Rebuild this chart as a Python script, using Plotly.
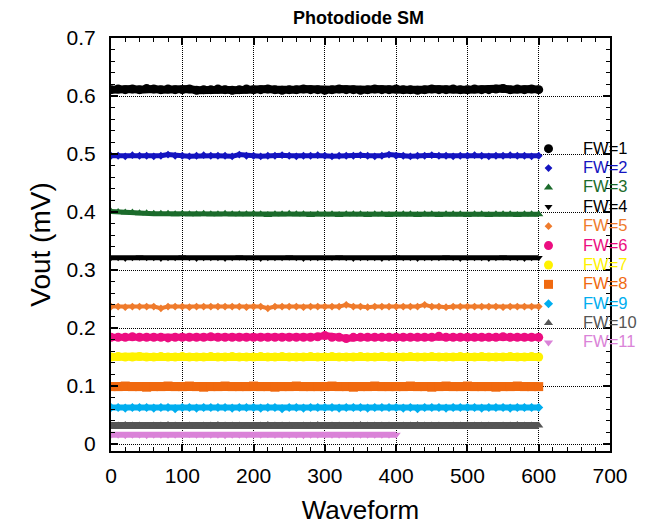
import plotly.graph_objects as go

# Waveform index for each recorded sample (every 10th waveform)
waveform = list(range(0, 601, 10))
waveform_fw11 = list(range(0, 401, 10))

fw1 = [0.611, 0.612, 0.611, 0.612, 0.611, 0.613, 0.612, 0.611, 0.612, 0.611,
       0.611, 0.612, 0.610, 0.611, 0.611, 0.612, 0.611, 0.610, 0.611, 0.612,
       0.611, 0.611, 0.612, 0.611, 0.610, 0.611, 0.611, 0.612, 0.611, 0.611,
       0.610, 0.611, 0.612, 0.611, 0.611, 0.610, 0.611, 0.612, 0.611, 0.611,
       0.612, 0.611, 0.611, 0.610, 0.611, 0.612, 0.611, 0.611, 0.612, 0.611,
       0.611, 0.612, 0.611, 0.611, 0.612, 0.613, 0.611, 0.612, 0.611, 0.612, 0.611]
fw2 = [0.497, 0.497, 0.496, 0.498, 0.497, 0.497, 0.496, 0.497, 0.499, 0.497,
       0.497, 0.496, 0.497, 0.498, 0.497, 0.497, 0.497, 0.496, 0.499, 0.497,
       0.497, 0.496, 0.497, 0.497, 0.498, 0.497, 0.496, 0.497, 0.497, 0.498,
       0.497, 0.496, 0.497, 0.497, 0.497, 0.498, 0.497, 0.496, 0.497, 0.499,
       0.497, 0.497, 0.496, 0.497, 0.497, 0.498, 0.497, 0.497, 0.496, 0.497,
       0.497, 0.498, 0.497, 0.496, 0.497, 0.497, 0.498, 0.497, 0.497, 0.496, 0.497]
fw3 = [0.401, 0.400, 0.399, 0.399, 0.398, 0.398, 0.397, 0.397, 0.397, 0.396,
       0.397, 0.396, 0.396, 0.397, 0.396, 0.396, 0.397, 0.396, 0.396, 0.396,
       0.397, 0.396, 0.395, 0.396, 0.396, 0.397, 0.396, 0.396, 0.395, 0.396,
       0.396, 0.396, 0.395, 0.396, 0.396, 0.396, 0.395, 0.396, 0.396, 0.395,
       0.396, 0.396, 0.396, 0.395, 0.396, 0.396, 0.395, 0.396, 0.396, 0.396,
       0.395, 0.396, 0.396, 0.395, 0.396, 0.396, 0.396, 0.395, 0.396, 0.396, 0.396]
fw4 = [0.321, 0.321, 0.320, 0.321, 0.322, 0.321, 0.321, 0.320, 0.321, 0.321,
       0.322, 0.321, 0.320, 0.321, 0.321, 0.321, 0.320, 0.321, 0.322, 0.321,
       0.321, 0.320, 0.321, 0.321, 0.321, 0.322, 0.321, 0.320, 0.321, 0.321,
       0.321, 0.321, 0.322, 0.321, 0.320, 0.321, 0.321, 0.321, 0.320, 0.321,
       0.322, 0.321, 0.321, 0.320, 0.321, 0.321, 0.321, 0.322, 0.321, 0.320,
       0.321, 0.321, 0.321, 0.320, 0.321, 0.322, 0.321, 0.321, 0.320, 0.321, 0.321]
fw5 = [0.237, 0.237, 0.236, 0.237, 0.237, 0.237, 0.237, 0.234, 0.237, 0.237,
       0.237, 0.236, 0.237, 0.237, 0.237, 0.237, 0.237, 0.237, 0.237, 0.236,
       0.237, 0.237, 0.234, 0.237, 0.237, 0.237, 0.237, 0.236, 0.237, 0.237,
       0.237, 0.237, 0.237, 0.240, 0.237, 0.237, 0.236, 0.237, 0.237, 0.237,
       0.237, 0.237, 0.237, 0.237, 0.240, 0.237, 0.237, 0.236, 0.237, 0.237,
       0.237, 0.237, 0.237, 0.237, 0.237, 0.236, 0.237, 0.237, 0.237, 0.237, 0.237]
fw6 = [0.184, 0.184, 0.184, 0.185, 0.184, 0.184, 0.184, 0.184, 0.183, 0.184,
       0.184, 0.184, 0.184, 0.184, 0.185, 0.184, 0.184, 0.184, 0.184, 0.184,
       0.184, 0.184, 0.184, 0.184, 0.184, 0.184, 0.184, 0.184, 0.184, 0.185,
       0.187, 0.184, 0.184, 0.182, 0.184, 0.184, 0.184, 0.184, 0.184, 0.184,
       0.184, 0.184, 0.184, 0.184, 0.184, 0.184, 0.186, 0.184, 0.184, 0.184,
       0.184, 0.184, 0.184, 0.184, 0.184, 0.185, 0.184, 0.184, 0.184, 0.184, 0.184]
fw7 = [0.150, 0.151, 0.150, 0.150, 0.151, 0.150, 0.150, 0.151, 0.150, 0.150,
       0.151, 0.150, 0.150, 0.150, 0.151, 0.150, 0.150, 0.151, 0.150, 0.150,
       0.150, 0.151, 0.150, 0.150, 0.151, 0.150, 0.150, 0.150, 0.151, 0.150,
       0.150, 0.151, 0.150, 0.150, 0.150, 0.151, 0.150, 0.150, 0.151, 0.150,
       0.150, 0.150, 0.151, 0.150, 0.150, 0.151, 0.150, 0.150, 0.150, 0.151,
       0.150, 0.150, 0.151, 0.150, 0.150, 0.150, 0.151, 0.150, 0.150, 0.151, 0.150]
fw8 = [0.099, 0.099, 0.100, 0.099, 0.099, 0.098, 0.099, 0.099, 0.100, 0.099,
       0.099, 0.100, 0.099, 0.098, 0.099, 0.099, 0.100, 0.099, 0.099, 0.099,
       0.100, 0.099, 0.099, 0.098, 0.099, 0.099, 0.100, 0.099, 0.099, 0.099,
       0.099, 0.100, 0.099, 0.099, 0.098, 0.099, 0.099, 0.100, 0.099, 0.099,
       0.099, 0.099, 0.100, 0.099, 0.099, 0.098, 0.099, 0.100, 0.099, 0.099,
       0.100, 0.099, 0.099, 0.099, 0.098, 0.099, 0.099, 0.100, 0.099, 0.099, 0.099]
fw9 = [0.063, 0.063, 0.062, 0.063, 0.063, 0.063, 0.062, 0.063, 0.063, 0.061,
       0.063, 0.063, 0.062, 0.063, 0.063, 0.063, 0.063, 0.062, 0.063, 0.063,
       0.063, 0.062, 0.063, 0.063, 0.061, 0.063, 0.063, 0.062, 0.063, 0.063,
       0.063, 0.063, 0.062, 0.063, 0.063, 0.063, 0.062, 0.063, 0.063, 0.063,
       0.063, 0.062, 0.063, 0.061, 0.063, 0.063, 0.063, 0.062, 0.063, 0.063,
       0.063, 0.063, 0.062, 0.063, 0.063, 0.063, 0.062, 0.063, 0.063, 0.063, 0.063]
fw10 = [0.032, 0.032, 0.033, 0.032, 0.032, 0.031, 0.032, 0.032, 0.033, 0.032,
        0.032, 0.032, 0.031, 0.032, 0.032, 0.033, 0.032, 0.032, 0.032, 0.031,
        0.032, 0.032, 0.033, 0.032, 0.032, 0.032, 0.031, 0.032, 0.032, 0.033,
        0.032, 0.032, 0.032, 0.031, 0.032, 0.033, 0.032, 0.032, 0.032, 0.032,
        0.031, 0.032, 0.032, 0.033, 0.032, 0.032, 0.032, 0.031, 0.032, 0.032,
        0.033, 0.032, 0.032, 0.032, 0.031, 0.032, 0.032, 0.033, 0.032, 0.032, 0.032]
fw11 = [0.016, 0.016, 0.015, 0.016, 0.016, 0.015, 0.016, 0.016, 0.016, 0.016,
        0.016, 0.017, 0.016, 0.016, 0.016, 0.016, 0.015, 0.016, 0.016, 0.016,
        0.016, 0.016, 0.017, 0.016, 0.016, 0.016, 0.016, 0.015, 0.016, 0.016,
        0.016, 0.016, 0.016, 0.016, 0.017, 0.016, 0.016, 0.016, 0.016, 0.016, 0.016]

names = ["FW=1", "FW=2", "FW=3", "FW=4", "FW=5", "FW=6",
         "FW=7", "FW=8", "FW=9", "FW=10", "FW=11"]
series = [fw1, fw2, fw3, fw4, fw5, fw6, fw7, fw8, fw9, fw10, fw11]
xvals = [waveform] * 10 + [waveform_fw11]
colors = ["#000000", "#1414c0", "#1b6b2b", "#000000", "#ef7b2c", "#ec0d80",
          "#fff200", "#f0690f", "#00aeef", "#555555", "#da83d8"]
symbols = ["circle", "diamond", "triangle-up", "triangle-down", "diamond", "circle",
           "circle", "square", "diamond", "triangle-up", "triangle-down"]
sizes = [9, 6, 8, 7, 6, 9, 9, 9, 7, 8, 8]
band_widths = [8, 5, 5, 5, 4, 7, 8, 9, 6, 7, 6]

FONT = "Liberation Sans, Arial, sans-serif"

fig = go.Figure()
for name, xs, ys, c, s, sz, bw in zip(names, xvals, series, colors, symbols, sizes, band_widths):
    # dense run of samples: markers joined by a band of the same colour
    fig.add_trace(go.Scatter(
        x=xs, y=ys, mode="lines+markers", legendgroup=name, showlegend=False,
        line=dict(color=c, width=bw),
        marker=dict(color=c, symbol=s, size=sz, line=dict(width=0)),
    ))
    # legend entry: symbol only
    fig.add_trace(go.Scatter(
        x=[None], y=[None], mode="markers", legendgroup=name,
        name=f'<span style="color:{c};font-size:16.5px">{name}</span>',
        marker=dict(color=c, symbol=s, size=sz, line=dict(width=0)),
    ))

DOT = "1px,1px"
axis_common = dict(
    showline=True, linecolor="black", linewidth=2, mirror="ticks",
    ticks="inside", ticklen=7, tickwidth=1.5, tickcolor="black",
    showgrid=True, gridcolor="black", gridwidth=1, griddash=DOT,
    zeroline=False,
    tickfont=dict(family=FONT, size=21, color="black"),
)

fig.update_layout(
    width=655, height=525,
    margin=dict(l=111, r=45, t=38, b=74, autoexpand=False),
    paper_bgcolor="white", plot_bgcolor="white",
    font=dict(family=FONT, color="black"),
    title=dict(text="<b>Photodiode SM</b>", x=0.5475, xanchor="center",
               y=1 - 18 / 525, yref="container", yanchor="middle",
               font=dict(family=FONT, size=18, color="black")),
    showlegend=True,
    legend=dict(x=(514 - 111) / 499, xanchor="left",
                y=(451 - 134) / 413, yanchor="top",
                bgcolor="rgba(0,0,0,0)", borderwidth=0,
                itemwidth=59, tracegroupgap=0,
                font=dict(family=FONT, size=12.6, color="black")),
)

fig.update_xaxes(
    range=[0, 700], tick0=0, dtick=100,
    minor=dict(dtick=20, ticks="inside", ticklen=4, tickcolor="black", tickwidth=1,
               showgrid=False),
    ticklabelstandoff=5,
    title=dict(text="Waveform", standoff=17, font=dict(family=FONT, size=26, color="black")),
    **axis_common,
)
fig.update_yaxes(
    range=[-0.012, 0.7], tick0=0, dtick=0.1,
    minor=dict(dtick=0.02, ticks="inside", ticklen=4, tickcolor="black", tickwidth=1,
               showgrid=False),
    ticklabelstandoff=9,
    title=dict(text="Vout (mV)", standoff=8, font=dict(family=FONT, size=28, color="black")),
    **axis_common,
)

fig.write_html("out.html")
